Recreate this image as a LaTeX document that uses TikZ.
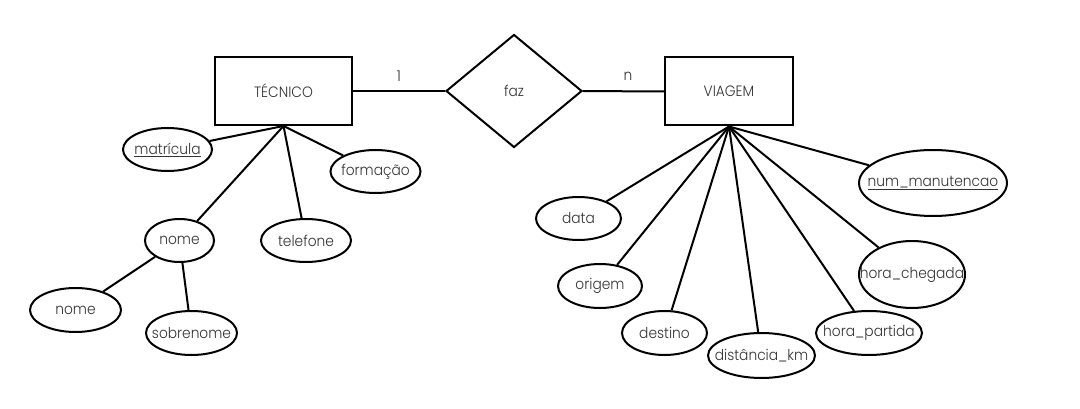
\documentclass[tikz,border=0pt]{standalone}
\usepackage{fontspec}
\setmainfont{Poppins}[UprightFont=* Light,FakeStretch=0.92]
\usetikzlibrary{shapes.geometric}
\newcommand{\tx}[1]{\makebox[0pt]{#1}}
\begin{document}
\begin{tikzpicture}[x=1pt,y=-1pt,line width=2pt,
    every node/.style={text=black!80,font=\fontsize{15}{17}\selectfont},
    entity/.style={draw,rectangle,minimum height=68pt,inner sep=0pt},
    rel/.style={draw,diamond,minimum width=136pt,minimum height=113pt,inner sep=0pt}]
    \tikzstyle{attr}=[draw,ellipse,inner sep=0pt]
    \useasboundingbox (0,0) rectangle (1080,409);

    % entities and relationship
    \node[entity,minimum width=137pt] (tec) at (283.5,91) {TÉCNICO};
    \node[rel] (faz) at (514,91) {faz};
    \node[entity,minimum width=128pt] (via) at (729,91.5) {VIAGEM};
    \node (um) at (399,76) {1};
    \node (ene) at (628,76) {n};
    \draw (tec) -- (faz);
    \draw (faz) -- (via);

    % attributes of TÉCNICO
    \node[attr,minimum width=89pt,minimum height=43pt] (mat) at (167.5,149.5) {\tx{\underline{matrícula}}};
    \node[attr,minimum width=90pt,minimum height=43pt] (form) at (375.5,171.5) {\tx{formação}};
    \node[attr,minimum width=69pt,minimum height=43pt] (nome) at (179.5,240.5) {\tx{nome}};
    \node[attr,minimum width=90pt,minimum height=43pt] (tel) at (306,240.5) {\tx{telefone}};
    \node[attr,minimum width=91pt,minimum height=44pt] (pnome) at (75.5,310) {\tx{nome}};
    \node[attr,minimum width=91pt,minimum height=44pt] (sobre) at (191.5,333) {\tx{sobrenome}};
    \foreach \a in {mat,form,nome,tel}
        \draw (tec.south) -- (\a);
    \draw (nome) -- (pnome);
    \draw (nome) -- (sobre);

    % attributes of VIAGEM
    \node[attr,minimum width=85pt,minimum height=43pt] (data) at (578.5,218.5) {\tx{data}};
    \node[attr,minimum width=84pt,minimum height=44pt] (orig) at (600,286) {\tx{origem}};
    \node[attr,minimum width=85pt,minimum height=44pt] (dest) at (664.5,333) {\tx{destino}};
    \node[attr,minimum width=107pt,minimum height=45pt] (dist) at (761.5,355.5) {\tx{distância\_km}};
    \node[attr,minimum width=106pt,minimum height=44pt] (hpart) at (869,333) {\tx{hora\_partida}};
    \node[attr,minimum width=106pt,minimum height=67pt] (hcheg) at (912,274.5) {\tx{hora\_chegada}};
    \node[attr,minimum width=148pt,minimum height=66pt] (num) at (933,183) {\tx{\underline{num\_manutencao}}};
    \foreach \a in {data,orig,dest,dist,hpart,hcheg,num}
        \draw (via.south) -- (\a);

\end{tikzpicture}
\end{document}
